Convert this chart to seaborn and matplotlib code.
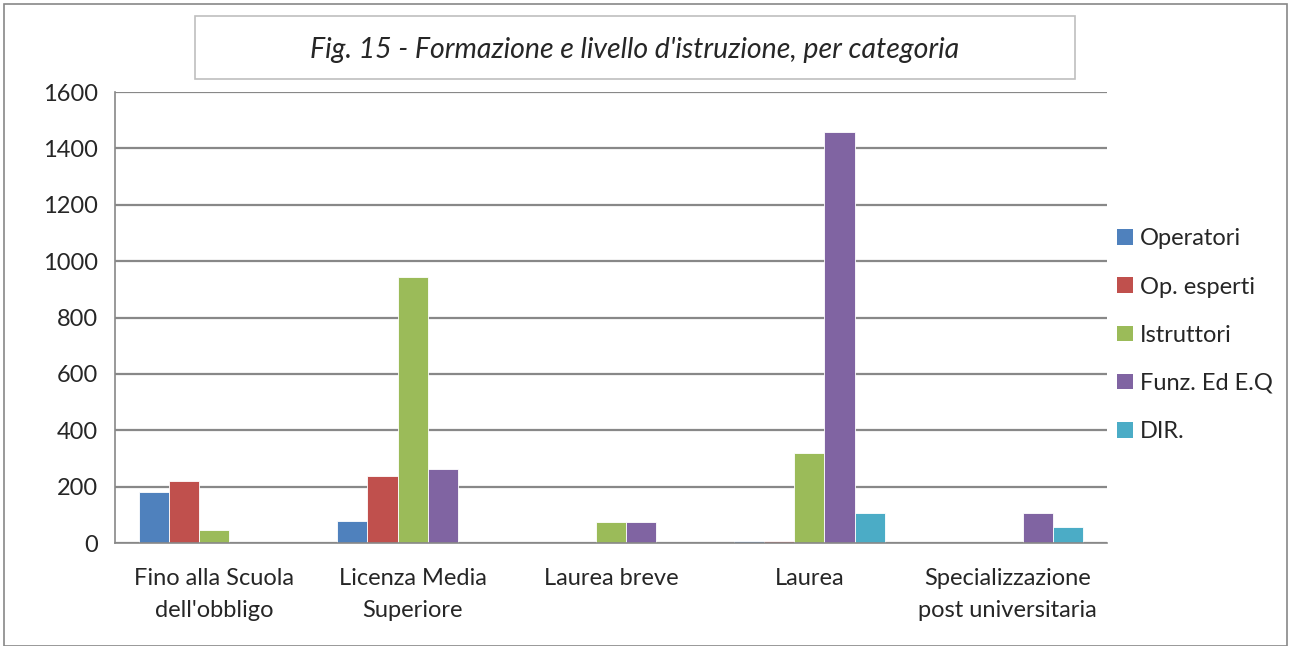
import matplotlib
matplotlib.use("Agg")
import matplotlib.pyplot as plt
from matplotlib.patches import Rectangle, Patch
import seaborn as sns
import pandas as pd

categories = ["Fino alla Scuola\ndell'obbligo", "Licenza Media\nSuperiore", "Laurea breve",
              "Laurea", "Specializzazione\npost universitaria"]
series = ["Operatori", "Op. esperti", "Istruttori", "Funz. Ed E.Q", "DIR."]
operatori = [182, 78, 0, 8, 0]
op_esperti = [221, 239, 0, 8, 0]
istruttori = [45, 943, 76, 318, 0]
funz = [0, 264, 76, 1458, 108]
dir_ = [0, 0, 0, 105, 56]
colors = ["#4F81BD", "#C0504D", "#9BBB59", "#8064A2", "#4BACC6"]

rows = []
for s, vals in zip(series, [operatori, op_esperti, istruttori, funz, dir_]):
    for c, v in zip(categories, vals):
        rows.append({"cat": c, "serie": s, "val": v})
df = pd.DataFrame(rows)

sns.set_style("white")
plt.rcParams["font.family"] = ["Lato", "DejaVu Sans"]

fig = plt.figure(figsize=(12.92, 6.46), dpi=100)
ax = fig.add_axes([115 / 1292, 1 - 543 / 646, (1107 - 115) / 1292, (543 - 92) / 646])

sns.barplot(data=df, x="cat", y="val", hue="serie", palette=colors, width=0.76,
            order=categories, hue_order=series, ax=ax, legend=False, saturation=1,
            edgecolor="white", linewidth=0.6)

grid_c = "#888888"
ax.set_ylim(0, 1600)
ax.set_xlim(-0.5, len(categories) - 0.5)
ax.set_yticks(range(0, 1601, 200))
ax.yaxis.grid(True, color=grid_c, linewidth=1.6)
ax.set_axisbelow(True)
ax.set_xlabel("")
ax.set_ylabel("")
for s in ["top", "right"]:
    ax.spines[s].set_visible(False)
for s in ["left", "bottom"]:
    ax.spines[s].set_color(grid_c)
    ax.spines[s].set_linewidth(1.2)
ax.tick_params(axis="y", length=6, color=grid_c, labelsize=17, pad=6)
ax.tick_params(axis="x", which="major", length=0, labelsize=17, pad=18)
ax.set_xticks([i - 0.5 for i in range(len(categories) + 1)], minor=True)
ax.tick_params(axis="x", which="minor", length=7, color=grid_c)
for lab in ax.get_xticklabels():
    lab.set_linespacing(1.65)
    lab.set_verticalalignment("top")

handles = [Patch(facecolor=c, edgecolor="none") for c in colors]
fig.legend(handles, series, loc="upper left", bbox_to_anchor=(1108 / 1292, 1 - 219 / 646),
           frameon=False, fontsize=17, handlelength=0.65, handleheight=0.65,
           handletextpad=0.3, labelspacing=1.15, borderaxespad=0)

# title box and outer frame
fig.patches.append(Rectangle((195 / 1292, 1 - 79 / 646), 880 / 1292, 63 / 646,
                             transform=fig.transFigure, fill=False, edgecolor="#BFBFBF", linewidth=1.2))
fig.text(635 / 1292, 1 - 50 / 646, "Fig. 15 - Formazione e livello d'istruzione, per categoria",
         ha="center", va="center", fontsize=20.5, style="italic")
fig.patches.append(Rectangle((4 / 1292, 0), 1283 / 1292, 642 / 646,
                             transform=fig.transFigure, fill=False, edgecolor="#888888", linewidth=1.2))

fig.savefig("out.png", dpi=100)
